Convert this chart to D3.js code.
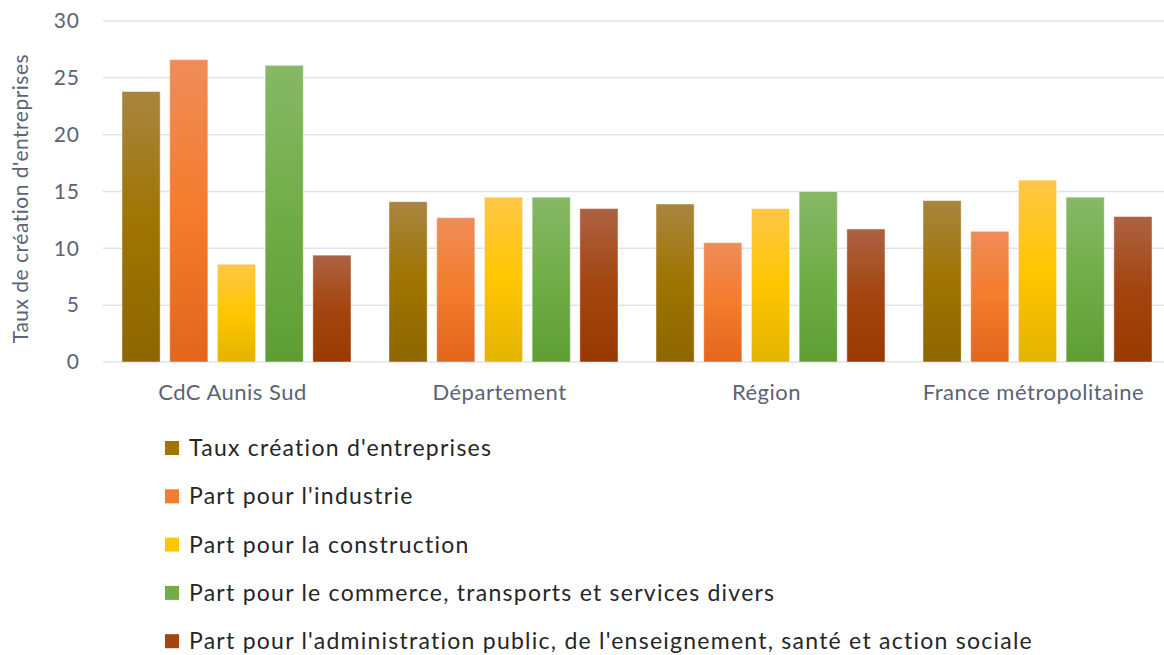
<!DOCTYPE html>
<html>
<head>
<meta charset="utf-8">
<script src="https://cdn.jsdelivr.net/npm/d3@7"></script>
<style>
  body { margin: 0; background: #fff; }
  text { font-family: Lato, "Open Sans", sans-serif; }
</style>
</head>
<body>
<div id="chart"></div>
<script>
const categories = ["CdC Aunis Sud", "Département", "Région", "France métropolitaine"];
const seriesNames = [
    "Taux création d'entreprises",
    "Part pour l'industrie",
    "Part pour la construction",
    "Part pour le commerce, transports et services divers",
    "Part pour l'administration public, de l'enseignement, santé et action sociale"
];
const tauxCreation = [23.8, 14.1, 13.9, 14.2];
const partIndustrie = [26.6, 12.7, 10.5, 11.5];
const partConstruction = [8.6, 14.5, 13.5, 16.0];
const partCommerce = [26.1, 14.5, 15.0, 14.5];
const partAdministration = [9.4, 13.5, 11.7, 12.8];
const yTicks = [0, 5, 10, 15, 20, 25, 30];

const seriesValues = [tauxCreation, partIndustrie, partConstruction, partCommerce, partAdministration];
// top, middle, bottom colours of each bar gradient
const palettes = [
    ["#a8853f", "#9f7400", "#8d6600"],
    ["#f08c58", "#f47c2c", "#e2661c"],
    ["#ffc746", "#ffc600", "#e3b300"],
    ["#87b866", "#71ad47", "#5e9d34"],
    ["#ad6242", "#a4450f", "#983a00"]
];

const width = 1164, height = 655;
const margin = {top: 21, left: 103};
const plotBottom = 362;

const svg = d3.select("#chart")
    .append("svg")
    .attr("width", width)
    .attr("height", height);

const defs = svg.append("defs");
palettes.forEach((p, i) => {
    const g = defs.append("linearGradient")
        .attr("id", "grad" + i)
        .attr("x1", 0).attr("y1", 0).attr("x2", 0).attr("y2", 1);
    g.append("stop").attr("offset", "0%").attr("stop-color", p[0]);
    g.append("stop").attr("offset", "50%").attr("stop-color", p[1]);
    g.append("stop").attr("offset", "100%").attr("stop-color", p[2]);
});

const x0 = d3.scaleBand()
    .domain(categories)
    .range([margin.left, margin.left + 4 * 267]);

const x1 = d3.scaleBand()
    .domain(d3.range(seriesNames.length))
    .range([19, 267 - 19])
    .paddingInner(0.2);

const y = d3.scaleLinear()
    .domain([0, 30])
    .range([plotBottom, margin.top]);

// gridlines
svg.append("g")
    .selectAll("line")
    .data(yTicks)
    .enter().append("line")
    .attr("x1", margin.left)
    .attr("x2", width)
    .attr("y1", d => y(d))
    .attr("y2", d => y(d))
    .attr("stroke", "#dfe3ea")
    .attr("stroke-width", 1.5);

// y axis labels
const yAxis = svg.append("g")
    .attr("transform", `translate(${margin.left},0)`)
    .call(d3.axisLeft(y).tickValues(yTicks).tickSize(0).tickPadding(23));
yAxis.select(".domain").remove();
yAxis.selectAll("text")
    .attr("fill", "#5b6374")
    .style("font-size", "21px")
    .style("letter-spacing", "1px")
    .style("font-family", "Lato, sans-serif");

svg.append("text")
    .attr("transform", `translate(28,${(plotBottom + margin.top) / 2 + 7}) rotate(-90)`)
    .attr("text-anchor", "middle")
    .attr("fill", "#5b6374")
    .style("font-size", "21px")
    .style("letter-spacing", "0.5px")
    .text("Taux de création d'entreprises");

// bars
const groups = svg.append("g")
    .selectAll("g")
    .data(categories)
    .enter().append("g")
    .attr("transform", d => `translate(${x0(d)},0)`);

groups.selectAll("rect")
    .data((c, ci) => seriesValues.map((vals, si) => ({si, v: vals[ci]})))
    .enter().append("rect")
    .attr("x", d => x1(d.si))
    .attr("y", d => y(d.v))
    .attr("width", x1.bandwidth())
    .attr("height", d => plotBottom - y(d.v))
    .attr("fill", d => `url(#grad${d.si})`)
    .attr("stroke", "#ffffff")
    .attr("stroke-opacity", 0.45)
    .attr("stroke-width", 1);

// category labels
svg.append("g")
    .selectAll("text")
    .data(categories)
    .enter().append("text")
    .attr("x", d => x0(d) + x0.bandwidth() / 2 - 4)
    .attr("y", 400)
    .attr("text-anchor", "middle")
    .attr("fill", "#5b6374")
    .style("font-size", "22px")
    .style("letter-spacing", "0.5px")
    .text(d => d);

// legend
const legend = svg.append("g")
    .selectAll("g")
    .data(seriesNames)
    .enter().append("g")
    .attr("transform", (d, i) => `translate(165,${448 + i * 48.3})`);

legend.append("rect")
    .attr("x", 0)
    .attr("y", -7)
    .attr("width", 14)
    .attr("height", 14)
    .attr("fill", (d, i) => palettes[i][1]);

legend.append("text")
    .attr("x", 24)
    .attr("y", 8)
    .attr("fill", "#262626")
    .style("font-size", "23px")
    .style("letter-spacing", "1.25px")
    .text(d => d);
</script>
</body>
</html>
